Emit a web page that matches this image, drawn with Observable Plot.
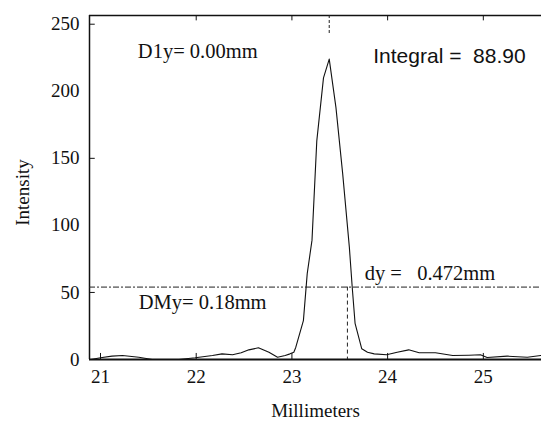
<!DOCTYPE html>
<html>
<head>
<meta charset="utf-8">
<script src="https://cdn.jsdelivr.net/npm/d3@7"></script>
<script src="https://cdn.jsdelivr.net/npm/@observablehq/plot@0.6"></script>
<style>
  html, body { margin: 0; padding: 0; background: #fff; }
  #chart svg { display: block; }
</style>
</head>
<body>
<div id="chart"></div>
<script>
// Profile: position (mm) and intensity
const mm = [20.90, 21.00, 21.12, 21.23, 21.40, 21.54, 21.70, 21.82, 21.99, 22.17, 22.27, 22.38, 22.47, 22.55, 22.65, 22.76, 22.85, 22.93, 22.98,
            23.02, 23.04, 23.12, 23.16, 23.21, 23.26, 23.33, 23.39, 23.46, 23.53, 23.60, 23.63, 23.66, 23.73, 23.79,
            23.86, 23.99, 24.10, 24.22, 24.33, 24.50, 24.68, 24.85, 24.97, 25.04, 25.25, 25.46, 25.60];
const intensity = [0, 1.3, 2.5, 3, 1.7, 0, 0, 0, 1.3, 3, 4.2, 3.5, 5, 7.2, 8.7, 5.4, 1.7, 3, 4.2,
                   5.4, 9, 29, 64, 89, 163, 210, 224, 188, 139, 84, 54, 27, 8, 5.4,
                   4.2, 3.5, 5.4, 7.2, 5, 5, 3, 3.2, 3.5, 1.5, 2.5, 1.7, 3];

const xTicks = [21, 22, 23, 24, 25];
const topTicks = [22, 23, 24, 25];
const yTicks = [0, 50, 100, 150, 200, 250];
const yInward = [50, 150, 250];

const halfLevel = 54;      // horizontal cursor level
const peakX = 23.39;       // cursor at peak
const rightEdgeX = 23.58;  // right cursor at half level

const annText = ["D1y= 0.00mm", "Integral =  88.90", "dy =   0.472mm", "DMy= 0.18mm"];
const annX = [21.39, 23.85, 23.76, 21.40];
const annY = [230, 226, 64, 42.5];
const annFont = ["serif", "sans", "serif", "serif"];

const xDomain = [20.885, 25.608];
const yDomain = [0, 256.5];

const profile = mm.map((x, i) => ({x, y: intensity[i]}));
const ann = annText.map((t, i) => ({t, x: annX[i], y: annY[i], f: annFont[i]}));

const serif = "Liberation Serif";
const sans = "Liberation Sans";

const plot = Plot.plot({
  width: 541,
  height: 421,
  marginLeft: 89,
  marginRight: 0,
  marginTop: 15,
  marginBottom: 62,
  style: {fontFamily: serif, fontSize: "19px", color: "#111", background: "#fff"},
  x: {domain: xDomain, ticks: xTicks},
  y: {domain: yDomain, ticks: yTicks},
  marks: [
    Plot.axisX({ticks: xTicks, tickSize: 0, tickPadding: 10, label: null, fontSize: 19, fontFamily: serif, tickFormat: d => String(d)}),
    Plot.axisY({ticks: yTicks, tickSize: 0, tickPadding: 10, label: null, fontSize: 19, fontFamily: serif, tickFormat: d => String(d)}),
    // frame
    Plot.ruleX([xDomain[0]], {stroke: "#111", strokeWidth: 1.5}),
    Plot.ruleY([0], {stroke: "#111", strokeWidth: 2}),
    Plot.ruleY([yDomain[1]], {stroke: "#111", strokeWidth: 1.5}),
    // inward ticks
    Plot.ruleX(xTicks, {y1: 0, y2: 4.5, stroke: "#111", strokeWidth: 1}),
    Plot.ruleX(topTicks, {y1: yDomain[1], y2: yDomain[1] - 4, stroke: "#111", strokeWidth: 1}),
    Plot.ruleY(yInward, {x1: xDomain[0], x2: xDomain[0] + 0.06, stroke: "#111", strokeWidth: 1}),
    // cursors
    Plot.ruleY([halfLevel], {stroke: "#222", strokeWidth: 1, strokeDasharray: "6,2,2,2"}),
    Plot.ruleX([peakX], {y1: yDomain[1], y2: 242, stroke: "#222", strokeWidth: 1, strokeDasharray: "3,2"}),
    Plot.ruleX([rightEdgeX], {y1: halfLevel, y2: 0, stroke: "#222", strokeWidth: 1, strokeDasharray: "4,3"}),
    // profile
    Plot.line(profile, {x: "x", y: "y", stroke: "#111", strokeWidth: 1.1}),
    // annotations
    Plot.text(ann.filter(d => d.f === "serif"), {x: "x", y: "y", text: "t", textAnchor: "start", fontSize: 20.5, fontFamily: serif, fill: "#111"}),
    Plot.text(ann.filter(d => d.f === "sans"), {x: "x", y: "y", text: "t", textAnchor: "start", fontSize: 21, fill: "#111", fontFamily: sans}),
    // axis titles
    Plot.text(["Millimeters"], {frameAnchor: "bottom", dy: 57, fontSize: 19, fontFamily: serif, fill: "#111"}),
    Plot.text(["Intensity"], {frameAnchor: "left", textAnchor: "middle", dx: -67, dy: 5, rotate: -90, fontSize: 19, fontFamily: serif, fill: "#111"})
  ]
});
plot.querySelectorAll('g[aria-label$="tick label"]').forEach(g => {
  g.setAttribute("font-family", serif);
  g.style.fontFamily = serif;
  g.style.fontVariant = "normal";
});
document.getElementById("chart").appendChild(plot);
</script>
</body>
</html>
